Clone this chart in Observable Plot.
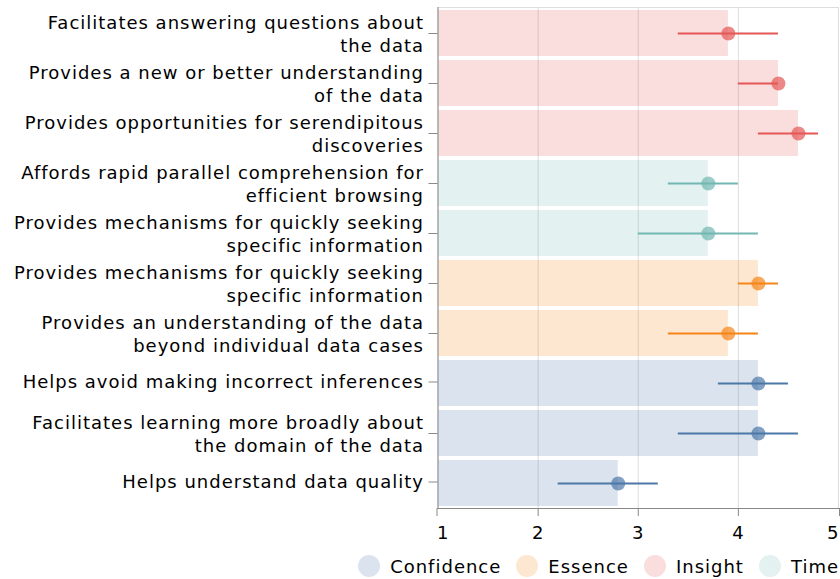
<!DOCTYPE html>
<html><head><meta charset="utf-8">
<script src="https://cdn.jsdelivr.net/npm/d3@7"></script>
<script src="https://cdn.jsdelivr.net/npm/@observablehq/plot@0.6"></script>
<style>
body{margin:0;background:#fff;font-family:"DejaVu Sans",Verdana,sans-serif;}
#legend{display:flex;justify-content:flex-end;align-items:center;padding-right:1px;margin-top:10px;font-size:18px;letter-spacing:1px;color:#000;}
.item{display:flex;align-items:center;margin-left:15px;}
.sw{width:22px;height:22px;border-radius:50%;margin-right:10px;}
</style></head><body>
<div id="chart"></div><div id="legend"></div>
<script>
const labels = [
  "Facilitates answering questions about\nthe data",
  "Provides a new or better understanding\nof the data",
  "Provides opportunities for serendipitous\ndiscoveries",
  "Affords rapid parallel comprehension for\nefficient browsing",
  "Provides mechanisms for quickly seeking\nspecific information",
  "Provides mechanisms for quickly seeking\nspecific information",
  "Provides an understanding of the data\nbeyond individual data cases",
  "Helps avoid making incorrect inferences",
  "Facilitates learning more broadly about\nthe domain of the data",
  "Helps understand data quality"
];
const categories = ["Insight","Insight","Insight","Time","Time","Essence","Essence","Confidence","Confidence","Confidence"];
const means = [3.9, 4.4, 4.6, 3.7, 3.7, 4.2, 3.9, 4.2, 4.2, 2.8];
const lows  = [3.4, 4.0, 4.2, 3.3, 3.0, 4.0, 3.3, 3.8, 3.4, 2.2];
const highs = [4.4, 4.4, 4.8, 4.0, 4.2, 4.4, 4.2, 4.5, 4.6, 3.2];
const groups = ["Confidence","Essence","Insight","Time"];
const palette = ["#4c78a8","#f58518","#e45756","#72b7b2"];
const xTicks = [1,2,3,4,5];

const rows = labels.map((l,i)=>({i, cat:categories[i], mean:means[i], lo:lows[i], hi:highs[i]}));
const multi = i => labels[i].includes("\n");

const plot = Plot.plot({
  width: 840, height: 545,
  marginLeft: 437.5, marginTop: 7, marginRight: 2, marginBottom: 37,
  style: {fontFamily: '"DejaVu Sans", Verdana, sans-serif', fontSize: "18px", color: "#000", background: "#fff", letterSpacing: "1px"},
  x: {domain: [1,5], label: null},
  y: {domain: d3.range(labels.length), paddingInner: 0.08, paddingOuter: 0.04, label: null},
  color: {domain: groups, range: palette},
  marks: [
    Plot.gridX([2,3,4], {stroke: "#ddd", strokeOpacity: 1}),
    Plot.barX(rows, {y: "i", x1: 1, x2: "mean", fill: "cat", fillOpacity: 0.2}),
    Plot.ruleY(rows, {y: "i", x1: "lo", x2: "hi", stroke: "cat", strokeWidth: 2}),
    Plot.dot(rows, {y: "i", x: "mean", fill: "cat", fillOpacity: 0.7, r: 7}),
    Plot.frame({stroke: "#ddd"}),
    Plot.frame({anchor: "left", stroke: "#888"}),
    Plot.frame({anchor: "bottom", stroke: "#888"}),
    Plot.axisY(d3.range(labels.length).filter(multi), {tickFormat: i => labels[i], tickSize: 9, tickPadding: 5, lineHeight: 1.25, stroke: "#888", fontSize: 18, label: null}),
    Plot.axisY(d3.range(labels.length).filter(i => !multi(i)), {tickFormat: i => labels[i], tickSize: 9, tickPadding: 5, dy: -1.5, stroke: "#888", fontSize: 18, label: null}),
    Plot.axisX([xTicks[0]], {tickSize: 8, tickPadding: 10, textAnchor: "start", dx: -1, stroke: "#888", fontSize: 18, label: null}),
    Plot.axisX(xTicks.slice(1, -1), {tickSize: 8, tickPadding: 10, stroke: "#888", fontSize: 18, label: null}),
    Plot.axisX([xTicks[xTicks.length - 1]], {tickSize: 8, tickPadding: 10, textAnchor: "end", dx: 1, stroke: "#888", fontSize: 18, label: null})
  ]
});
document.getElementById("chart").appendChild(plot);

const lg = document.getElementById("legend");
groups.forEach((g,k)=>{
  const c = d3.color(palette[k]);
  const it = document.createElement("div"); it.className = "item";
  const sw = document.createElement("div"); sw.className = "sw";
  sw.style.background = `rgba(${c.r},${c.g},${c.b},0.2)`;
  const t = document.createElement("span"); t.textContent = g;
  it.appendChild(sw); it.appendChild(t); lg.appendChild(it);
});
</script>
</body></html>
